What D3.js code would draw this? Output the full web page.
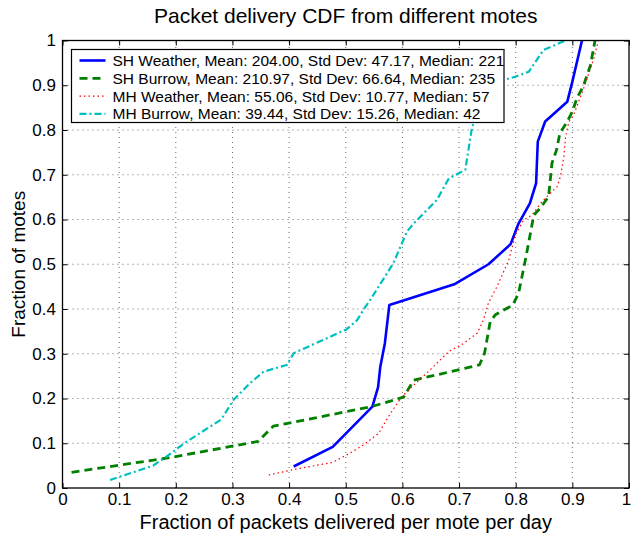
<!DOCTYPE html>
<html>
<head>
<meta charset="utf-8">
<script src="https://cdn.jsdelivr.net/npm/d3@7"></script>
<style>
  html, body { margin: 0; padding: 0; background: #fff; }
</style>
</head>
<body>
<div id="chart"></div>
<script>
// --- DATA ---
const X_TICKS = [0, 0.1, 0.2, 0.3, 0.4, 0.5, 0.6, 0.7, 0.8, 0.9, 1];
const Y_TICKS = [0, 0.1, 0.2, 0.3, 0.4, 0.5, 0.6, 0.7, 0.8, 0.9, 1];
const X_TICK_LABELS = ["0", "0.1", "0.2", "0.3", "0.4", "0.5", "0.6", "0.7", "0.8", "0.9", "1"];
const Y_TICK_LABELS = ["0", "0.1", "0.2", "0.3", "0.4", "0.5", "0.6", "0.7", "0.8", "0.9", "1"];

const SERIES_NAMES = [
  "SH Weather, Mean: 204.00, Std Dev: 47.17, Median: 221",
  "SH Burrow, Mean: 210.97, Std Dev: 66.64, Median: 235",
  "MH Weather, Mean: 55.06, Std Dev: 10.77, Median: 57",
  "MH Burrow, Mean: 39.44, Std Dev: 15.26, Median: 42"
];

const shWeatherX = [0.408, 0.477, 0.547, 0.557, 0.561, 0.569, 0.577, 0.693, 0.752, 0.791, 0.805, 0.825, 0.836, 0.839, 0.852, 0.891, 0.900, 0.917];
const shWeatherY = [0.048, 0.092, 0.182, 0.225, 0.271, 0.323, 0.409, 0.456, 0.500, 0.545, 0.591, 0.636, 0.681, 0.774, 0.819, 0.863, 0.908, 1.000];

const shBurrowX = [0.016, 0.19, 0.345, 0.372, 0.546, 0.602, 0.62, 0.685, 0.736, 0.745, 0.755, 0.764, 0.795, 0.805, 0.817, 0.832, 0.843, 0.858, 0.864, 0.872, 0.878, 0.891, 0.900, 0.908, 0.920, 0.932, 0.940];
const shBurrowY = [0.035, 0.068, 0.104, 0.138, 0.182, 0.203, 0.241, 0.26, 0.275, 0.301, 0.372, 0.387, 0.409, 0.435, 0.509, 0.61, 0.625, 0.651, 0.726, 0.755, 0.793, 0.819, 0.841, 0.871, 0.900, 0.945, 1.000];

const mhWeatherX = [0.364, 0.411, 0.476, 0.502, 0.531, 0.558, 0.579, 0.599, 0.614, 0.649, 0.682, 0.708, 0.732, 0.743, 0.752, 0.767, 0.788, 0.799, 0.814, 0.829, 0.844, 0.858, 0.873, 0.879, 0.885, 0.888, 0.894, 0.902, 0.920, 0.938, 0.946];
const mhWeatherY = [0.029, 0.042, 0.057, 0.074, 0.096, 0.122, 0.167, 0.204, 0.223, 0.264, 0.305, 0.323, 0.346, 0.375, 0.414, 0.45, 0.51, 0.565, 0.599, 0.61, 0.636, 0.655, 0.673, 0.696, 0.74, 0.785, 0.819, 0.833, 0.893, 0.96, 1.000];

const mhBurrowX = [0.084, 0.16, 0.185, 0.215, 0.28, 0.302, 0.331, 0.355, 0.396, 0.408, 0.502, 0.52, 0.531, 0.543, 0.584, 0.608, 0.62, 0.661, 0.682, 0.711, 0.723, 0.745, 0.779, 0.799, 0.823, 0.849, 0.888];
const mhBurrowY = [0.018, 0.05, 0.0715, 0.10, 0.153, 0.197, 0.234, 0.26, 0.275, 0.301, 0.355, 0.375, 0.398, 0.42, 0.502, 0.573, 0.591, 0.644, 0.692, 0.711, 0.807, 0.87, 0.912, 0.919, 0.93, 0.979, 1.000];

// --- CONFIGURATION ---
const WIDTH = 631;
const HEIGHT = 535;
const MARGIN = { top: 40.5, right: 2, bottom: 47, left: 62.5 };
const FONT = "'Liberation Sans', Arial, Helvetica, sans-serif";

const STYLES = [
  { color: "#0000ff", width: 2.6, dash: null },
  { color: "#008000", width: 2.8, dash: "8,5" },
  { color: "#ff0000", width: 1.2, dash: "1.5,3" },
  { color: "#00bfbf", width: 2.2, dash: "7,3,2,3" }
];

function drawChart() {
  const series = [
    d3.zip(shWeatherX, shWeatherY),
    d3.zip(shBurrowX, shBurrowY),
    d3.zip(mhWeatherX, mhWeatherY),
    d3.zip(mhBurrowX, mhBurrowY)
  ];

  const x = d3.scaleLinear().domain([0, 1]).range([MARGIN.left, WIDTH - MARGIN.right]);
  const y = d3.scaleLinear().domain([0, 1]).range([HEIGHT - MARGIN.bottom, MARGIN.top]);

  const svg = d3.select("#chart")
    .append("svg")
    .attr("width", WIDTH)
    .attr("height", HEIGHT)
    .style("font-family", FONT);

  svg.append("defs").append("clipPath").attr("id", "plot-clip")
    .append("rect")
    .attr("x", x(0)).attr("y", y(1))
    .attr("width", x(1) - x(0)).attr("height", y(0) - y(1));

  // 1. Dotted grid
  const grid = svg.append("g").attr("stroke", "#444").attr("stroke-width", 0.8)
    .attr("stroke-dasharray", "1,4");
  grid.selectAll(".gx").data(X_TICKS.slice(1, -1)).join("line")
    .attr("x1", d => x(d)).attr("x2", d => x(d))
    .attr("y1", y(0)).attr("y2", y(1));
  grid.selectAll(".gy").data(Y_TICKS.slice(1, -1)).join("line")
    .attr("y1", d => y(d)).attr("y2", d => y(d))
    .attr("x1", x(0)).attr("x2", x(1));

  // 2. Axes, ticks inside on all four sides
  const tickLen = 5;
  const xFmt = (d, i) => X_TICK_LABELS[i];
  const yFmt = (d, i) => Y_TICK_LABELS[i];

  svg.append("g")
    .attr("transform", `translate(0,${y(0)})`)
    .call(d3.axisBottom(x).tickValues(X_TICKS).tickFormat(xFmt).tickSize(-tickLen).tickPadding(5))
    .call(g => g.select(".domain").remove())
    .call(g => g.selectAll("text").attr("font-size", "17px").attr("fill", "#000").attr("font-family", FONT))
    // the last label sits on the page edge; nudge it in so it is not clipped
    .call(g => g.selectAll("text").filter(d => d === 1).attr("dx", -3));

  svg.append("g")
    .attr("transform", `translate(0,${y(1)})`)
    .call(d3.axisTop(x).tickValues(X_TICKS).tickFormat("").tickSize(-tickLen))
    .call(g => g.select(".domain").remove());

  svg.append("g")
    .attr("transform", `translate(${x(0)},0)`)
    .call(d3.axisLeft(y).tickValues(Y_TICKS).tickFormat(yFmt).tickSize(-tickLen).tickPadding(6.5))
    .call(g => g.select(".domain").remove())
    .call(g => g.selectAll("text").attr("font-size", "17px").attr("fill", "#000").attr("font-family", FONT));

  svg.append("g")
    .attr("transform", `translate(${x(1)},0)`)
    .call(d3.axisRight(y).tickValues(Y_TICKS).tickFormat("").tickSize(-tickLen))
    .call(g => g.select(".domain").remove());

  svg.selectAll(".tick line").attr("stroke", "#000").attr("stroke-width", 1);

  // 3. Curves
  const line = d3.line().x(d => x(d[0])).y(d => y(d[1]));
  svg.append("g").attr("clip-path", "url(#plot-clip)")
    .selectAll("path")
    .data(series)
    .join("path")
    .attr("d", line)
    .attr("fill", "none")
    .attr("stroke", (d, i) => STYLES[i].color)
    .attr("stroke-width", (d, i) => STYLES[i].width)
    .attr("stroke-dasharray", (d, i) => STYLES[i].dash)
    .attr("stroke-linejoin", "round");

  // 4. Frame
  svg.append("rect")
    .attr("x", x(0)).attr("y", y(1))
    .attr("width", x(1) - x(0)).attr("height", y(0) - y(1))
    .attr("fill", "none").attr("stroke", "#000").attr("stroke-width", 1.3);

  // 5. Legend
  const lg = svg.append("g").attr("transform", "translate(71.5,49.5)");
  lg.append("rect")
    .attr("width", 432.5).attr("height", 73)
    .attr("fill", "#fff").attr("stroke", "#000").attr("stroke-width", 1.2);
  const rows = lg.selectAll(".row").data(SERIES_NAMES).join("g")
    .attr("transform", (d, i) => `translate(0,${11 + i * 17.8})`);
  rows.append("line")
    .attr("x1", 8).attr("x2", 34)
    .attr("stroke", (d, i) => STYLES[i].color)
    .attr("stroke-width", (d, i) => STYLES[i].width)
    .attr("stroke-dasharray", (d, i) => STYLES[i].dash);
  rows.append("text")
    .attr("x", 41).attr("dy", "0.36em")
    .attr("font-size", "15.5px")
    .text(d => d);

  // 6. Titles
  svg.append("text")
    .attr("x", (x(0) + x(1)) / 2).attr("y", 23)
    .attr("text-anchor", "middle").attr("font-size", "21px")
    .text("Packet delivery CDF from different motes");

  svg.append("text")
    .attr("x", (x(0) + x(1)) / 2).attr("y", 529)
    .attr("text-anchor", "middle").attr("font-size", "20px")
    .text("Fraction of packets delivered per mote per day");

  svg.append("text")
    .attr("transform", `translate(25,${(y(0) + y(1)) / 2}) rotate(-90)`)
    .attr("text-anchor", "middle").attr("font-size", "19px")
    .text("Fraction of motes");
}

drawChart();
</script>
</body>
</html>
